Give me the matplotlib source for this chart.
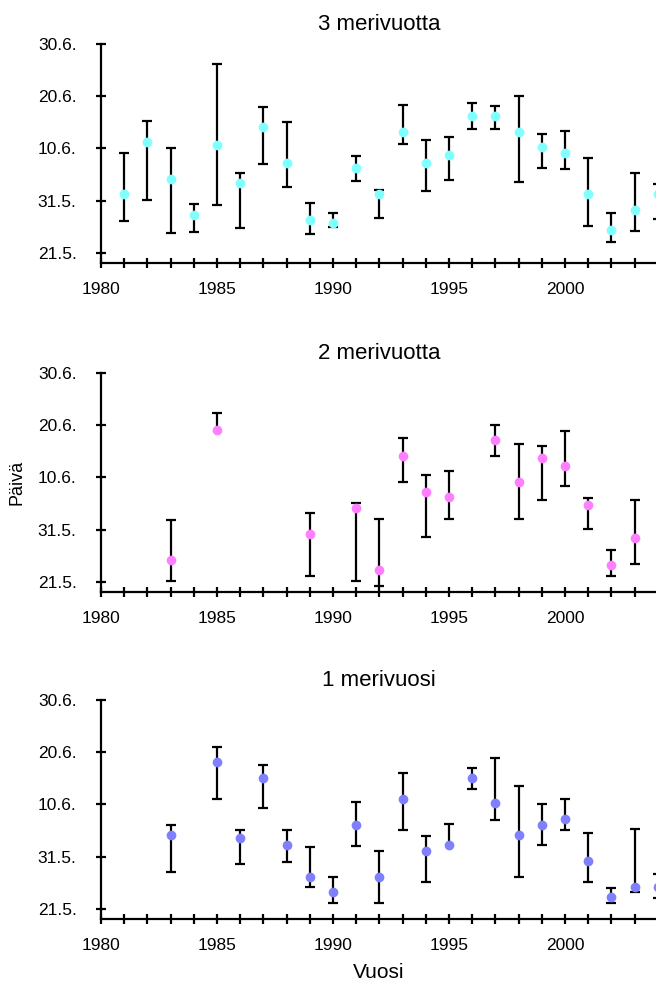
import numpy as np
import matplotlib
matplotlib.use("Agg")
import matplotlib.pyplot as plt

plt.rcParams['font.family'] = ['Liberation Sans', 'DejaVu Sans']

# y-akselilla päivät 21.5. jälkeen
paiva_ticks = [0, 10, 20, 30, 40]
paiva_labels = ['21.5.', '31.5.', '10.6.', '20.6.', '30.6.']
vuosi_ticks = [1980, 1985, 1990, 1995, 2000]

# 3 merivuotta
vuodet_3 = [1981, 1982, 1983, 1984, 1985, 1986, 1987, 1988, 1989, 1990, 1991, 1992,
            1993, 1994, 1995, 1996, 1997, 1998, 1999, 2000, 2001, 2002, 2003, 2004]
ka_3 = [11.2, 21.3, 14.2, 7.2, 20.7, 13.3, 24.2, 17.2, 6.2, 5.7, 16.2, 11.2,
        23.2, 17.2, 18.7, 26.2, 26.2, 23.2, 20.2, 19.2, 11.2, 4.3, 8.2, 11.2]
ala_3 = [6.1, 10.1, 3.8, 4.0, 9.1, 4.8, 17.1, 12.6, 3.5, 4.9, 13.8, 6.6,
         20.8, 11.8, 14.0, 23.8, 23.7, 13.6, 16.3, 16.0, 5.1, 2.1, 4.1, 6.4]
yla_3 = [19.1, 25.3, 20.1, 9.4, 36.2, 15.2, 27.9, 25.1, 9.6, 7.6, 18.6, 12.1,
         28.3, 21.6, 22.2, 28.7, 28.1, 30.1, 22.8, 23.3, 18.1, 7.6, 15.2, 13.1]

# 2 merivuotta
vuodet_2 = [1983, 1985, 1989, 1991, 1992, 1993, 1994, 1995, 1997, 1998, 1999,
            2000, 2001, 2002, 2003]
ka_2 = [4.2, 29.2, 9.2, 14.2, 2.2, 24.2, 17.2, 16.2, 27.2, 19.1, 23.7,
        22.2, 14.7, 3.2, 8.3]
ala_2 = [0.1, np.nan, 1.1, 0.1, -0.8, 19.1, 8.6, 12.1, 24.1, 12.1, 15.6,
         18.4, 10.1, 1.1, 3.3]
yla_2 = [11.8, 32.3, 13.1, 15.1, 12.1, 27.6, 20.4, 21.3, 30.1, 26.4, 26.0,
         28.9, 16.1, 6.1, 15.6]

# 1 merivuosi
vuodet_1 = [1983, 1985, 1986, 1987, 1988, 1989, 1990, 1991, 1992, 1993, 1994,
            1995, 1996, 1997, 1998, 1999, 2000, 2001, 2002, 2003, 2004]
ka_1 = [14.1, 28.1, 13.6, 25.1, 12.2, 6.1, 3.2, 16.1, 6.1, 21.1, 11.1,
        12.2, 25.1, 20.2, 14.1, 16.1, 17.2, 9.2, 2.2, 4.2, 4.2]
ala_1 = [7.0, 21.0, 8.5, 19.3, 9.0, 4.2, 1.0, 12.0, 1.0, 15.0, 5.1,
         np.nan, 23.0, 17.0, 6.0, 12.3, 15.0, 5.1, 1.0, 3.1, 2.0]
yla_1 = [16.1, 31.0, 15.1, 27.5, 15.1, 11.8, 6.0, 20.5, 11.0, 26.0, 14.0,
         16.3, 27.0, 29.0, 23.6, 20.0, 21.0, 14.5, 4.0, 15.2, 6.6]

paneelit = [
    ('3 merivuotta', vuodet_3, ka_3, ala_3, yla_3, '#80ffff', 0.733),
    ('2 merivuotta', vuodet_2, ka_2, ala_2, yla_2, '#ff80ff', 0.399),
    ('1 merivuosi', vuodet_1, ka_1, ala_1, yla_1, '#8080ff', 0.067),
]

fig = plt.figure(figsize=(6.56, 9.85), dpi=100)

for otsikko, vuodet, ka, ala, yla, vari, alaosa in paneelit:
    ax = fig.add_axes([101 / 656, alaosa, 580 / 656, 0.222])
    x = np.array(vuodet, dtype=float)
    ka = np.array(ka)
    ala = np.array(ala)
    yla = np.array(yla)
    alku = np.where(np.isnan(ala), ka, ala)

    # virhepalkit ja päätyviivat
    ax.vlines(x, alku, yla, color='black', lw=1.6, zorder=2)
    ax.plot(x, yla, ls='none', marker='_', ms=7.5, mew=1.6, color='black', zorder=2)
    ok = ~np.isnan(ala)
    ax.plot(x[ok], ala[ok], ls='none', marker='_', ms=7.5, mew=1.6, color='black', zorder=2)
    ax.plot(x, ka, ls='none', marker='o', ms=6, color=vari, mec=vari, zorder=3)

    ax.set_xlim(1980, 2005)
    ax.set_ylim(-2, 40)
    ax.set_yticks(paiva_ticks)
    ax.set_yticklabels(paiva_labels)
    ax.set_xticks(vuosi_ticks)
    ax.set_xticks(range(1980, 2005), minor=True)
    ax.tick_params(axis='both', which='both', direction='inout', width=1.6,
                   length=7, labelsize=12.5)
    ax.tick_params(axis='y', pad=14)
    ax.tick_params(axis='x', pad=10)
    ax.spines['top'].set_visible(False)
    ax.spines['right'].set_visible(False)
    ax.spines['left'].set_linewidth(1.6)
    ax.spines['bottom'].set_linewidth(1.6)
    ax.spines['left'].set_bounds(-2, 40)
    ax.set_title(otsikko, x=0.479, pad=10, fontsize=16)

fig.text(17 / 656, 1 - 482 / 985, 'Päivä', rotation=90, ha='center', va='center', fontsize=13)
fig.text(379 / 656, 1 - 973 / 985, 'Vuosi', ha='center', va='center', fontsize=15)

fig.savefig('out.png', dpi=100)
